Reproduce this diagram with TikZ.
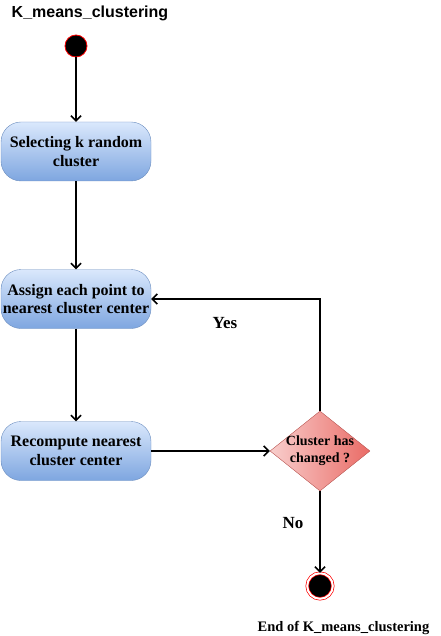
\documentclass[tikz,border=0pt]{standalone}
\usepackage{fontspec}
\setmainfont{Liberation Serif}
\setsansfont{Liberation Sans}
\usetikzlibrary{shapes.geometric,arrows.meta}
\definecolor{boxtop}{HTML}{DAE8FC}
\definecolor{boxbot}{HTML}{7EA6E0}
\definecolor{boxline}{HTML}{6C8EBF}
\definecolor{decleft}{HTML}{F8CECC}
\definecolor{decright}{HTML}{EA6B66}
\definecolor{decline}{HTML}{B85450}
\begin{document}
\begin{tikzpicture}[x=1pt,y=-1pt,
  activity/.style={draw=boxline,rounded corners=20pt,top color=boxtop,bottom color=boxbot,minimum width=150pt,minimum height=59pt,inner sep=0pt,align=center,font=\bfseries\fontsize{16}{18.5}\selectfont},
  decision/.style={diamond,draw=decline,left color=decleft,right color=decright,minimum width=100pt,minimum height=80pt,inner sep=0pt},
  flow/.style={line width=1.6pt,-{Straight Barb[length=5pt,width=10pt]}},
  lbl/.style={font=\bfseries\fontsize{17}{20}\selectfont}]
\useasboundingbox (0,0) rectangle (440,636);
\node[font=\sffamily\bfseries\fontsize{16}{19}\selectfont] (title) at (90,13) {K\_means\_clustering};
\node[circle,draw=red,fill=black,minimum size=22pt,inner sep=0pt,line width=0.8pt] (start) at (76,46) {};
\node[activity] (sel) at (76,151.5) {Selecting k random\\cluster};
\node[activity] (assign) at (76,299) {Assign each point to\\nearest cluster center};
\node[activity] (recomp) at (76,451) {Recompute nearest\\cluster center};
\node[decision] (chk) at (320,451) {};
\node[align=center,font=\bfseries\fontsize{14}{17}\selectfont] (chktext) at (chk) {Cluster has\\changed ?};
\node[circle,draw=red,fill=black,double=white,double distance=2pt,line width=0.7pt,minimum size=25.6pt,inner sep=0pt] (stop) at (320,586) {};
% connectors
\draw[flow] (start) -- (sel);
\draw[flow] (sel) -- (assign);
\draw[flow] (assign) -- (recomp);
\draw[flow] (recomp) -- (chk);
\draw[flow] (chk.north) |- (assign.east);
\draw[flow] (chk) -- (stop);
\node[lbl] (yes) at (225,323) {Yes};
\node[lbl] (no) at (293,523) {No};
\node[font=\bfseries\fontsize{14.5}{17}\selectfont] (endlbl) at (343.5,628) {End of K\_means\_clustering};
\end{tikzpicture}
\end{document}
